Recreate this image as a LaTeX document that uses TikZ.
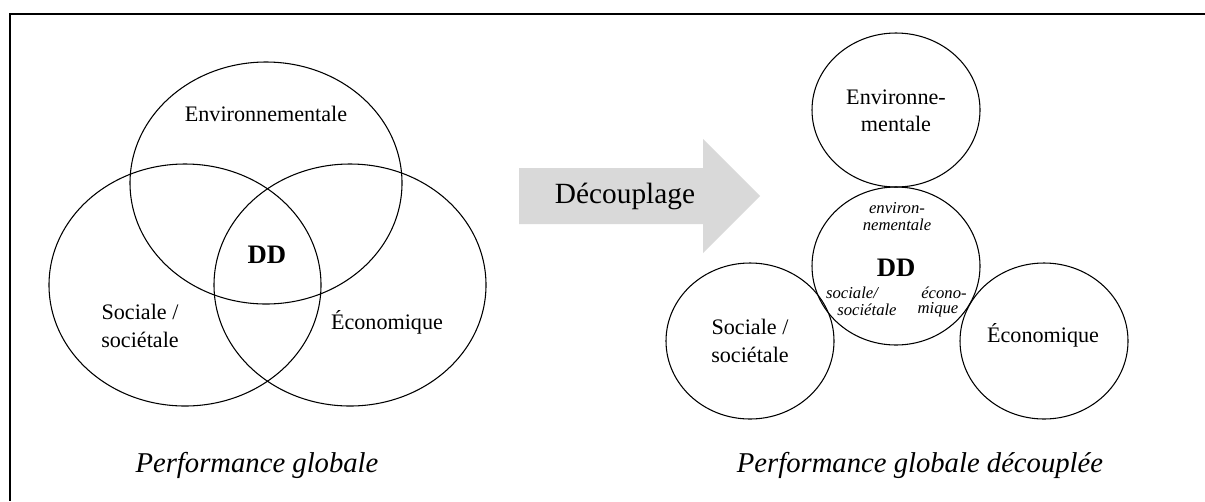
\documentclass[tikz,border=0pt]{standalone}
\usepackage{fontspec}
\setmainfont{Liberation Serif}
\usetikzlibrary{shapes.geometric}
\definecolor{arrowgray}{HTML}{D9D9D9}
\tikzset{
  bigell/.style={draw, ellipse, line width=0.8pt, inner sep=0pt, minimum width=204pt, minimum height=181.5pt},
  smell/.style={draw, ellipse, line width=0.8pt, inner sep=0pt, minimum width=126pt},
  lbl/.style={inner sep=0pt, align=center, font=\fontsize{16.6}{20.5}\selectfont},
  ddlbl/.style={inner sep=0pt, font=\fontsize{20}{24}\selectfont\bfseries},
  smalllbl/.style={inner sep=0pt, align=center, font=\fontsize{12.5}{12.8}\selectfont\itshape},
  caption/.style={inner sep=0pt, font=\fontsize{21.5}{26}\selectfont\itshape}
}
\begin{document}
\begin{tikzpicture}[x=0.75pt,y=-0.75pt]
\useasboundingbox (0,0) rectangle (1205,501);
% frame (top and left only)
\coordinate (frTR) at (1205,14);
\coordinate (frTL) at (10,14);
\coordinate (frBL) at (10,501);
\draw[line width=1.6pt] (frTR) -- (frTL) -- (frBL);

% left Venn
\node[bigell] (venv) at (266,183) {};
\node[bigell] (vsoc) at (185,285) {};
\node[bigell] (veco) at (350,285) {};
\node[lbl] (tenv) at (266,114) {Environnementale};
\node[ddlbl] (tdd) at (267,255) {DD};
\node[lbl] (tsoc) at (140,326) {Sociale /\\sociétale};
\node[lbl] (teco) at (387,322) {Économique};
\node[caption] (cap1) at (257,465) {Performance globale};

% arrow
\coordinate (a1) at (519,168);
\coordinate (a2) at (703,168);
\coordinate (a3) at (703,139);
\coordinate (a4) at (760,196);
\coordinate (a5) at (703,253);
\coordinate (a6) at (703,224);
\coordinate (a7) at (519,224);
\fill[arrowgray] (a1) -- (a2) -- (a3) -- (a4) -- (a5) -- (a6) -- (a7) -- cycle;
\node[inner sep=0pt, font=\fontsize{22}{26}\selectfont] (tdec) at (625,196) {Découplage};

% right decoupled circles
\node[smell, minimum height=115.5pt] (cenv) at (896,110) {};
\node[smell, minimum height=118.5pt] (cdd) at (896,266) {};
\node[smell, minimum height=117pt] (csoc) at (750,341) {};
\node[smell, minimum height=117pt] (ceco) at (1044,341) {};
\node[lbl] (renv) at (896,111) {Environne-\\mentale};
\node[smalllbl] (senv) at (897,217) {environ-\\nementale};
\node[ddlbl] (rdd) at (896,268) {DD};
\node[smalllbl] (ssoc1) at (852,293) {sociale/};
\node[smalllbl] (ssoc2) at (867,310) {sociétale};
\node[smalllbl] (seco1) at (944,293) {écono-};
\node[smalllbl] (seco2) at (938,310) {mique};
\node[lbl] (rsoc) at (750,341) {Sociale /\\sociétale};
\node[lbl] (reco) at (1043,335) {Économique};
\node[caption] (cap2) at (920,465) {Performance globale découplée};
\end{tikzpicture}
\end{document}
